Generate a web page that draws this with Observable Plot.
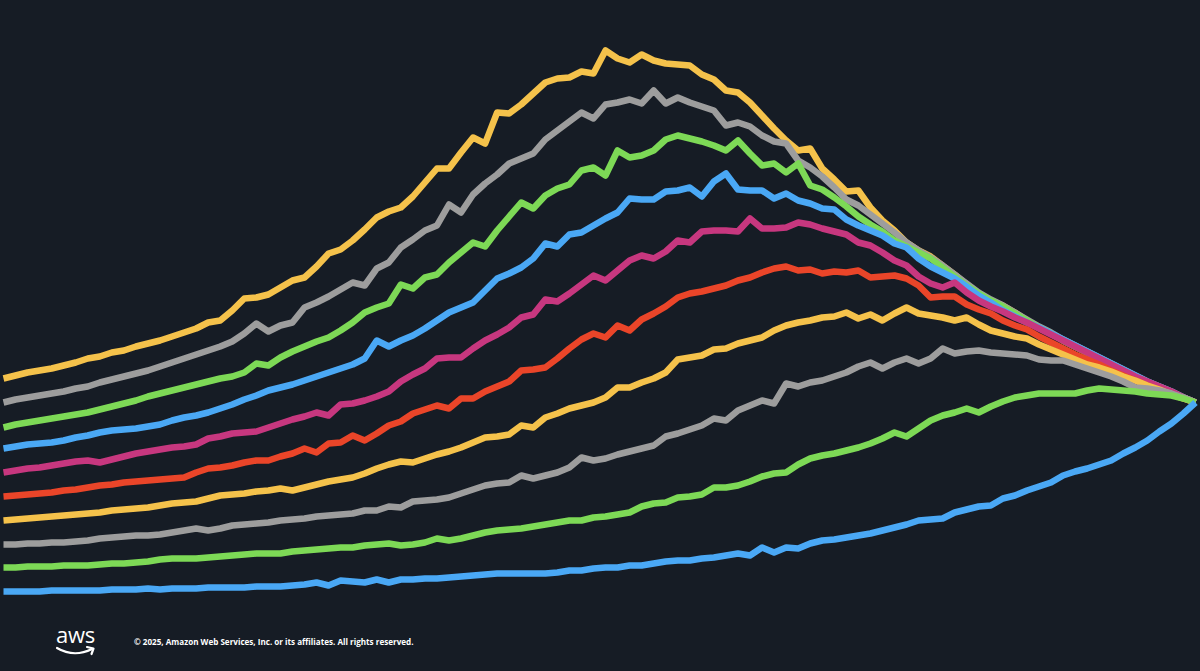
<!DOCTYPE html>
<html>
<head>
<meta charset="utf-8">
<script src="https://cdn.jsdelivr.net/npm/d3@7"></script>
<script src="https://cdn.jsdelivr.net/npm/@observablehq/plot@0.6"></script>
<style>
  html, body { margin: 0; padding: 0; background: #161c25; width: 1200px; height: 671px; overflow: hidden; }
  #chart svg { display: block; }
  #footer { position: relative; width: 1200px; height: 61px; }
  #logo { position: absolute; left: 54px; top: 14px; overflow: visible; }
  #copy { position: absolute; left: 134px; top: 26px; color: #ffffff; font-family: "Open Sans", "Noto Sans", sans-serif; font-weight: 700; font-size: 8.1px; white-space: nowrap; }
</style>
</head>
<body>
<div id="chart"></div>
<div id="footer">
  <svg id="logo" width="60" height="44" viewBox="0 0 60 44">
    <text x="2" y="19" fill="#ffffff" font-family="Open Sans, Noto Sans, sans-serif" font-size="22" font-weight="500" letter-spacing="-0.3">aws</text>
    <path d="M3,24 Q20,34 38,25" fill="none" stroke="#ffffff" stroke-width="2.2" stroke-linecap="round"/>
    <path d="M33,23 L39.5,24.5 L37.5,30" fill="none" stroke="#ffffff" stroke-width="2.2" stroke-linecap="round" stroke-linejoin="round"/>
  </svg>
  <div id="copy">© 2025, Amazon Web Services, Inc. or its affiliates. All rights reserved.</div>
</div>
<script>
// Ten series, 100 samples each (index 0..99), all converging at the final sample.
const seriesNames = ["A", "B", "C", "D", "E", "F", "G", "H", "I", "J"];
const seriesColors = ["#f5c24b", "#9d9d9d", "#7dd956", "#4aa8f5", "#c7377f", "#ea4529", "#f5c24b", "#9d9d9d", "#7dd956", "#4aa8f5"];

const seriesA = [
  222,225,228,230,232,235,238,242,244,248,
  250,254,257,260,264,268,272,278,280,290,
  302,303,306,313,320,323,334,347,351,360,
  371,383,389,393,404,418,432,432,448,463,
  457,488,487,496,507,518,522,523,529,527,
  550,542,538,546,540,537,536,535,526,521,
  510,508,498,485,472,460,450,452,432,421,
  409,410,393,380,370,358,350,344,335,326,
  316,305,300,295,288,280,273,267,260,254,
  248,242,236,230,224,218,213,208,203,198
];
const seriesB = [
  198,201,203,205,207,209,212,214,218,221,
  224,227,230,234,238,242,246,250,254,259,
  267,277,269,275,278,293,298,304,311,318,
  315,332,338,353,361,370,375,396,388,406,
  417,426,437,442,447,461,470,479,488,482,
  496,498,501,497,510,497,503,498,494,490,
  475,478,474,465,459,457,440,433,424,413,
  401,395,386,377,368,358,350,343,335,326,
  317,308,301,295,288,281,274,268,261,255,
  249,243,237,231,225,219,214,209,203,198
];
const seriesC = [
  173,176,178,180,182,184,186,188,191,194,
  197,200,204,207,210,213,216,219,222,224,
  228,237,235,243,249,254,259,263,270,278,
  288,293,297,316,312,323,326,338,348,358,
  354,370,384,398,392,405,412,416,430,433,
  425,450,443,445,450,461,465,462,459,455,
  450,460,447,435,437,428,437,415,411,403,
  394,384,376,369,360,354,348,342,333,324,
  315,307,300,294,287,280,273,267,260,254,
  248,242,236,230,224,218,213,208,203,198
];
const seriesD = [
  152,154,156,157,158,160,163,165,168,170,
  171,172,174,176,180,183,185,188,192,196,
  201,205,210,213,216,220,224,228,232,236,
  242,260,254,260,265,272,280,288,293,298,
  310,322,327,333,342,357,354,366,368,375,
  382,388,402,401,401,409,410,413,404,419,
  427,411,410,410,402,407,400,397,392,391,
  381,375,370,365,357,353,342,334,328,322,
  314,305,298,290,284,278,273,267,261,255,
  249,243,237,231,225,219,214,209,203,198
];
const seriesE = [
  128,130,132,133,135,137,139,140,138,141,
  144,147,149,151,153,154,156,162,164,167,
  168,169,173,177,181,184,188,185,196,197,
  200,204,209,219,226,232,242,243,243,252,
  260,266,273,283,286,301,299,307,316,325,
  320,330,340,345,342,349,360,358,369,370,
  370,369,382,372,372,373,378,376,372,369,
  366,358,355,348,340,335,324,317,313,318,
  308,300,294,289,283,278,272,266,260,254,
  248,242,236,230,224,219,214,209,203,198
];
const seriesF = [
  104,105,106,107,108,110,111,113,115,116,
  118,119,120,121,122,123,128,132,133,135,
  138,140,140,144,147,152,148,157,158,165,
  160,167,175,179,187,191,195,192,202,202,
  209,214,219,230,231,233,242,252,261,267,
  263,275,270,281,287,294,303,307,309,312,
  315,320,323,328,332,334,330,331,327,329,
  328,330,323,324,325,322,315,303,304,304,
  296,291,287,280,275,271,264,258,252,246,
  241,236,230,225,220,215,210,206,202,198
];
const seriesG = [
  80,81,82,83,84,85,86,87,88,90,
  91,92,93,95,97,98,99,102,105,106,
  107,109,110,112,110,113,116,119,121,123,
  127,132,136,139,138,142,146,149,153,158,
  163,164,166,175,173,183,187,192,195,198,
  203,213,213,218,222,228,241,243,245,251,
  252,257,260,263,270,275,278,280,283,284,
  288,282,286,280,287,293,287,285,283,280,
  283,276,270,267,264,262,256,251,246,241,
  236,233,229,224,220,215,211,206,202,198
];
const seriesH = [
  56,56,57,57,58,58,59,60,62,63,
  64,65,65,66,68,70,72,70,72,75,
  76,77,78,80,81,82,84,85,86,87,
  90,90,94,93,99,100,101,103,107,111,
  115,117,118,125,122,125,128,133,143,140,
  142,146,149,152,155,164,167,171,175,182,
  180,190,195,200,197,217,214,218,220,224,
  228,234,238,232,238,242,237,242,252,247,
  249,250,248,247,246,245,241,240,240,236,
  232,228,224,219,213,212,210,207,203,198
];
const seriesI = [
  33,33,34,34,34,35,35,35,36,37,
  37,38,39,41,42,42,42,43,44,45,
  46,47,47,47,49,50,51,52,53,53,
  55,56,57,55,56,58,62,60,62,65,
  68,70,71,72,74,76,78,80,80,83,
  84,86,88,94,97,98,103,104,106,113,
  113,115,119,124,127,128,136,142,145,147,
  150,153,157,162,168,164,172,180,185,188,
  192,188,194,199,203,205,207,207,207,207,
  210,212,211,210,209,207,206,205,202,198
];
const seriesJ = [
  9,9,9,9,10,10,10,10,10,11,
  11,11,12,11,12,12,12,13,13,13,
  13,14,14,14,15,16,18,15,20,19,
  18,21,18,21,21,22,22,23,24,25,
  26,27,27,27,27,27,28,30,30,32,
  33,33,35,35,37,39,40,40,42,43,
  45,47,45,53,48,53,52,57,60,61,
  63,65,67,70,73,76,80,81,82,88,
  91,94,95,102,105,110,114,118,125,129,
  132,136,140,147,153,160,169,177,187,198
];

const allSeries = [seriesA, seriesB, seriesC, seriesD, seriesE, seriesF, seriesG, seriesH, seriesI, seriesJ];
const rows = allSeries.flatMap((vals, k) => vals.map((v, i) => ({i, v, s: seriesNames[k]})));

const chart = Plot.plot({
  width: 1200,
  height: 610,
  marginTop: 0,
  marginBottom: 10,
  marginLeft: 3,
  marginRight: 5,
  style: {background: "transparent"},
  x: {domain: [0, 99], axis: null},
  y: {domain: [0, 600], axis: null},
  color: {domain: seriesNames, range: seriesColors},
  marks: [
    Plot.line(rows, {x: "i", y: "v", z: "s", stroke: "s", strokeWidth: 6.5, strokeLinejoin: "round", strokeLinecap: "butt"})
  ]
});
document.getElementById("chart").appendChild(chart);
</script>
</body>
</html>
